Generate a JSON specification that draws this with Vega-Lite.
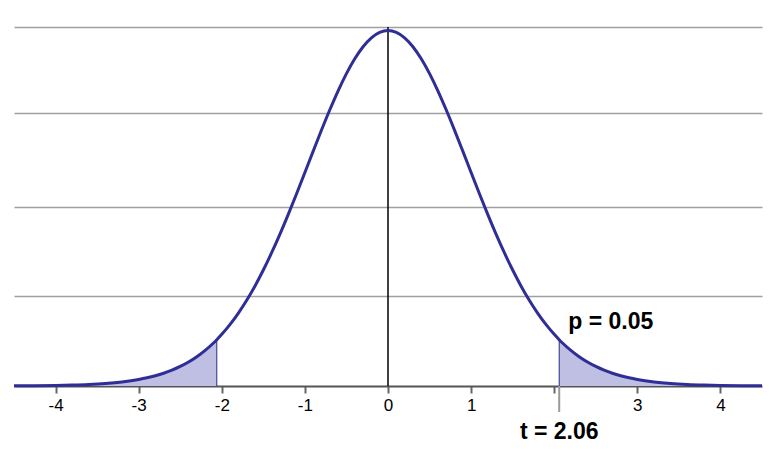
{
  "$schema": "https://vega.github.io/schema/vega-lite/v6.json",
  "autosize": {"type": "none"},
  "width": 748,
  "height": 359,
  "padding": {"left": 14, "top": 27, "right": 15, "bottom": 70},
  "background": "white",
  "config": {"view": {"stroke": null}, "font": "Liberation Sans"},
  "datasets": {
    "curve": [
      {"x": -4.5, "y": 0.00018}, {"x": -4.25, "y": 0.00034}, {"x": -4, "y": 0.00064}, {"x": -3.8, "y": 0.00106},
      {"x": -3.6, "y": 0.00174}, {"x": -3.4, "y": 0.00283}, {"x": -3.2, "y": 0.00457}, {"x": -3.0, "y": 0.00727},
      {"x": -2.9, "y": 0.00913}, {"x": -2.8, "y": 0.01142}, {"x": -2.7, "y": 0.01423}, {"x": -2.6, "y": 0.01765},
      {"x": -2.5, "y": 0.02178}, {"x": -2.4, "y": 0.02674}, {"x": -2.3, "y": 0.03267}, {"x": -2.2, "y": 0.03968},
      {"x": -2.1, "y": 0.04793}, {"x": -2.06, "y": 0.0516}, {"x": -2.0, "y": 0.05753}, {"x": -1.9, "y": 0.0686},
      {"x": -1.8, "y": 0.08124}, {"x": -1.7, "y": 0.09551}, {"x": -1.6, "y": 0.11151}, {"x": -1.5, "y": 0.1292},
      {"x": -1.4, "y": 0.14849}, {"x": -1.3, "y": 0.16925}, {"x": -1.2, "y": 0.19127}, {"x": -1.1, "y": 0.21427},
      {"x": -1.0, "y": 0.2379}, {"x": -0.9, "y": 0.26168}, {"x": -0.8, "y": 0.28516}, {"x": -0.7, "y": 0.30777},
      {"x": -0.6, "y": 0.32893}, {"x": -0.5, "y": 0.34804}, {"x": -0.4, "y": 0.36458}, {"x": -0.3, "y": 0.37802},
      {"x": -0.2, "y": 0.38796}, {"x": -0.1, "y": 0.39405}, {"x": 0, "y": 0.3961},
      {"x": 0.1, "y": 0.39405}, {"x": 0.2, "y": 0.38796}, {"x": 0.3, "y": 0.37802}, {"x": 0.4, "y": 0.36458},
      {"x": 0.5, "y": 0.34804}, {"x": 0.6, "y": 0.32893}, {"x": 0.7, "y": 0.30777}, {"x": 0.8, "y": 0.28516},
      {"x": 0.9, "y": 0.26168}, {"x": 1.0, "y": 0.2379}, {"x": 1.1, "y": 0.21427}, {"x": 1.2, "y": 0.19127},
      {"x": 1.3, "y": 0.16925}, {"x": 1.4, "y": 0.14849}, {"x": 1.5, "y": 0.1292}, {"x": 1.6, "y": 0.11151},
      {"x": 1.7, "y": 0.09551}, {"x": 1.8, "y": 0.08124}, {"x": 1.9, "y": 0.0686}, {"x": 2.0, "y": 0.05753},
      {"x": 2.06, "y": 0.0516}, {"x": 2.1, "y": 0.04793}, {"x": 2.2, "y": 0.03968}, {"x": 2.3, "y": 0.03267},
      {"x": 2.4, "y": 0.02674}, {"x": 2.5, "y": 0.02178}, {"x": 2.6, "y": 0.01765}, {"x": 2.7, "y": 0.01423},
      {"x": 2.8, "y": 0.01142}, {"x": 2.9, "y": 0.00913}, {"x": 3.0, "y": 0.00727}, {"x": 3.2, "y": 0.00457},
      {"x": 3.4, "y": 0.00283}, {"x": 3.6, "y": 0.00174}, {"x": 3.8, "y": 0.00106}, {"x": 4, "y": 0.00064},
      {"x": 4.25, "y": 0.00034}, {"x": 4.5, "y": 0.00018}
    ],
    "tails": [
      {"side": "left", "x": -4.5, "y": 0.00018}, {"side": "left", "x": -4.25, "y": 0.00034}, {"side": "left", "x": -4, "y": 0.00064},
      {"side": "left", "x": -3.8, "y": 0.00106}, {"side": "left", "x": -3.6, "y": 0.00174}, {"side": "left", "x": -3.4, "y": 0.00283},
      {"side": "left", "x": -3.2, "y": 0.00457}, {"side": "left", "x": -3.0, "y": 0.00727}, {"side": "left", "x": -2.9, "y": 0.00913},
      {"side": "left", "x": -2.8, "y": 0.01142}, {"side": "left", "x": -2.7, "y": 0.01423}, {"side": "left", "x": -2.6, "y": 0.01765},
      {"side": "left", "x": -2.5, "y": 0.02178}, {"side": "left", "x": -2.4, "y": 0.02674}, {"side": "left", "x": -2.3, "y": 0.03267},
      {"side": "left", "x": -2.2, "y": 0.03968}, {"side": "left", "x": -2.1, "y": 0.04793}, {"side": "left", "x": -2.06, "y": 0.0516},
      {"side": "right", "x": 2.06, "y": 0.0516}, {"side": "right", "x": 2.1, "y": 0.04793}, {"side": "right", "x": 2.2, "y": 0.03968},
      {"side": "right", "x": 2.3, "y": 0.03267}, {"side": "right", "x": 2.4, "y": 0.02674}, {"side": "right", "x": 2.5, "y": 0.02178},
      {"side": "right", "x": 2.6, "y": 0.01765}, {"side": "right", "x": 2.7, "y": 0.01423}, {"side": "right", "x": 2.8, "y": 0.01142},
      {"side": "right", "x": 2.9, "y": 0.00913}, {"side": "right", "x": 3.0, "y": 0.00727}, {"side": "right", "x": 3.2, "y": 0.00457},
      {"side": "right", "x": 3.4, "y": 0.00283}, {"side": "right", "x": 3.6, "y": 0.00174}, {"side": "right", "x": 3.8, "y": 0.00106},
      {"side": "right", "x": 4, "y": 0.00064}, {"side": "right", "x": 4.25, "y": 0.00034}, {"side": "right", "x": 4.5, "y": 0.00018}
    ],
    "crit": [{"x": -2.06, "y": 0.0516}, {"x": 2.06, "y": 0.0516}],
    "labels": [
      {"x": 2.68, "y": 0.0713, "label": "p = 0.05"},
      {"x": 2.06, "y": -0.0512, "label": "t = 2.06"}
    ]
  },
  "layer": [
    {
      "data": {"name": "tails"},
      "mark": {"type": "area", "color": "#bfbfe3", "interpolate": "monotone", "opacity": 1},
      "encoding": {
        "x": {"field": "x", "type": "quantitative", "scale": {"domain": [-4.5, 4.5], "nice": false, "zero": false},
          "axis": {"values": [-4, -3, -2, -1, 0, 1, 2, 3, 4],
            "labelExpr": "datum.value == 2 ? '' : (datum.value < 0 ? '-' + toString(abs(datum.value)) : toString(datum.value))",
            "title": null, "grid": false, "domainColor": "#555555", "domainWidth": 2, "tickColor": "#666666", "tickWidth": 2,
            "tickSize": 7, "labelFontSize": 17, "labelColor": "#000000", "labelPadding": 4, "labelFont": "Liberation Sans"}},
        "y": {"field": "y", "type": "quantitative", "stack": null, "scale": {"domain": [0, 0.4], "nice": false},
          "axis": {"values": [0.1, 0.2, 0.304, 0.4], "title": null, "labels": false, "ticks": false, "domain": false,
            "grid": true, "gridColor": "#a0a0a0", "gridWidth": 1.5}},
        "detail": {"field": "side"}
      }
    },
    {
      "data": {"name": "crit"},
      "mark": {"type": "rule", "color": "#2a2a8a", "strokeWidth": 1},
      "encoding": {
        "x": {"field": "x", "type": "quantitative"},
        "y": {"field": "y", "type": "quantitative"},
        "y2": {"datum": 0}
      }
    },
    {
      "data": {"values": [{"x": 0}]},
      "mark": {"type": "rule", "color": "#000000", "strokeWidth": 1.5},
      "encoding": {
        "x": {"field": "x", "type": "quantitative"},
        "y": {"datum": 0},
        "y2": {"datum": 0.4}
      }
    },
    {
      "data": {"values": [{"x": 2.06}]},
      "mark": {"type": "rule", "color": "#9a9a9a", "strokeWidth": 2},
      "encoding": {
        "x": {"field": "x", "type": "quantitative"},
        "y": {"datum": 0},
        "y2": {"datum": -0.029}
      }
    },
    {
      "data": {"name": "curve"},
      "mark": {"type": "line", "color": "#2e2e96", "strokeWidth": 3, "interpolate": "monotone"},
      "encoding": {
        "x": {"field": "x", "type": "quantitative"},
        "y": {"field": "y", "type": "quantitative"}
      }
    },
    {
      "data": {"name": "labels"},
      "mark": {"type": "text", "fontSize": 23, "fontWeight": "bold", "font": "Liberation Sans", "color": "#000000", "align": "center", "baseline": "middle"},
      "encoding": {
        "x": {"field": "x", "type": "quantitative"},
        "y": {"field": "y", "type": "quantitative"},
        "text": {"field": "label"}
      }
    }
  ]
}
